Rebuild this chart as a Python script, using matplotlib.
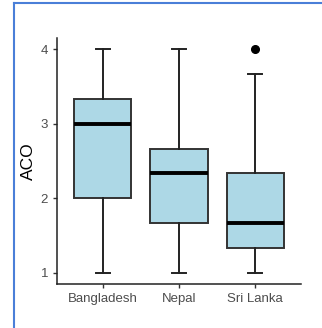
import matplotlib
matplotlib.use('Agg')
import matplotlib.pyplot as plt
from matplotlib.lines import Line2D

# Box statistics.
countries = ['Bangladesh', 'Nepal', 'Sri Lanka']
whisker_low = [1.0, 1.0, 1.0]
q1 = [2.0, 5 / 3, 4 / 3]
medians = [3.0, 7 / 3, 5 / 3]
q3 = [10 / 3, 8 / 3, 7 / 3]
whisker_high = [4.0, 4.0, 11 / 3]
outliers = [[], [], [4.0]]
y_ticks = [1, 2, 3, 4]

plt.rcParams['font.family'] = ['Liberation Sans', 'DejaVu Sans']

fig = plt.figure(figsize=(3.22, 3.28), dpi=100)
ax = fig.add_axes([57 / 322, 1 - 284 / 328, 244 / 322, 246 / 328])

stats = []
for i, name in enumerate(countries):
    stats.append({'label': name, 'whislo': whisker_low[i], 'q1': q1[i],
                  'med': medians[i], 'q3': q3[i], 'whishi': whisker_high[i],
                  'fliers': outliers[i]})

ax.bxp(stats, positions=[1, 2, 3], widths=0.75, patch_artist=True,
       boxprops=dict(facecolor='#ADD8E6', edgecolor='#333333', linewidth=1.4),
       medianprops=dict(color='black', linewidth=2.8),
       whiskerprops=dict(color='#222222', linewidth=1.4),
       capprops=dict(color='#222222', linewidth=1.4),
       flierprops=dict(marker='o', markerfacecolor='black',
                       markeredgecolor='black', markersize=5.5),
       capwidths=0.19, zorder=2)

ax.set_xlim(0.4, 3.6)
ax.set_ylim(0.85, 4.15)
ax.set_yticks(y_ticks)
ax.set_xticks([1, 2, 3])
ax.set_xticklabels(countries)
ax.set_ylabel('ACO', fontsize=12.5, color='black', labelpad=3)
ax.tick_params(colors='#333333', labelcolor='#4D4D4D', labelsize=9.5,
               length=3, width=1)
for side in ['top', 'right']:
    ax.spines[side].set_visible(False)
for side in ['left', 'bottom']:
    ax.spines[side].set_color('#222222')
    ax.spines[side].set_linewidth(1.1)

# Blue frame around the screenshot edge.
fig.add_artist(Line2D([14 / 322, 14 / 322], [0, 1 - 3 / 328],
                      color='#4A7FD8', linewidth=1.5))
fig.add_artist(Line2D([14 / 322, 1], [1 - 3 / 328, 1 - 3 / 328],
                      color='#4A7FD8', linewidth=1.5))

fig.savefig('out.png', dpi=100)
